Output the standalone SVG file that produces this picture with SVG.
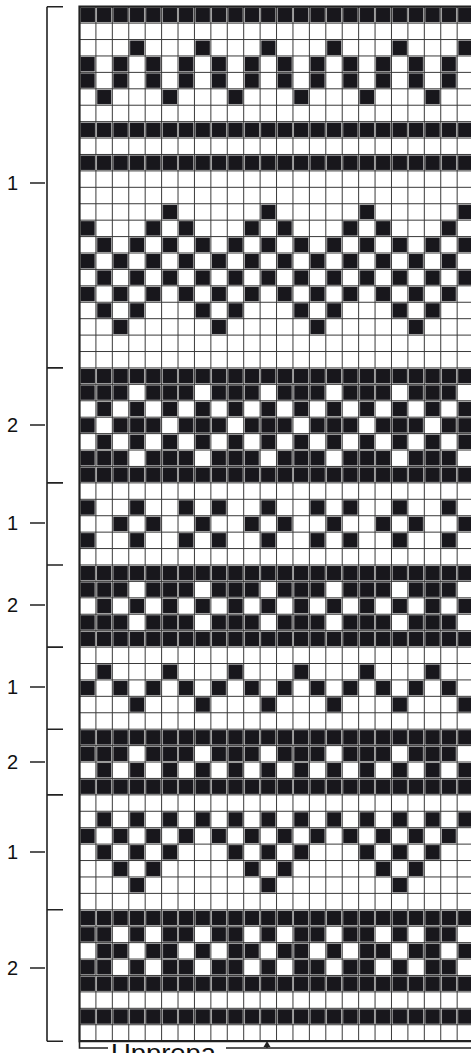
<svg xmlns="http://www.w3.org/2000/svg" width="471" height="1053" viewBox="0 0 471 1053">
<style>
.k{fill:#18171c}
.lbl{font-family:"Liberation Sans",Arial,sans-serif;font-size:20px;fill:#111}
.br{stroke:#222;stroke-width:1.6;fill:none}
</style>
<defs>
<pattern id="pF" width="1" height="1" patternUnits="userSpaceOnUse"><rect class="k" x="0.06" y="0.06" width="0.88" height="0.88"/></pattern>
<pattern id="pE" width="2" height="1" patternUnits="userSpaceOnUse"><rect class="k" x="0.06" y="0.06" width="0.88" height="0.88"/></pattern>
<pattern id="pO" width="2" height="1" patternUnits="userSpaceOnUse"><rect class="k" x="1.06" y="0.06" width="0.88" height="0.88"/></pattern>
<pattern id="a43" width="4" height="1" patternUnits="userSpaceOnUse"><rect class="k" x="3.06" y="0.06" width="0.88" height="0.88"/></pattern>
<pattern id="a41" width="4" height="1" patternUnits="userSpaceOnUse"><rect class="k" x="1.06" y="0.06" width="0.88" height="0.88"/></pattern>
<pattern id="n43" width="4" height="1" patternUnits="userSpaceOnUse"><rect class="k" x="0.06" y="0.06" width="0.88" height="0.88"/><rect class="k" x="1.06" y="0.06" width="0.88" height="0.88"/><rect class="k" x="2.06" y="0.06" width="0.88" height="0.88"/></pattern>
<pattern id="n41" width="4" height="1" patternUnits="userSpaceOnUse"><rect class="k" x="0.06" y="0.06" width="0.88" height="0.88"/><rect class="k" x="2.06" y="0.06" width="0.88" height="0.88"/><rect class="k" x="3.06" y="0.06" width="0.88" height="0.88"/></pattern>
<pattern id="b65" width="6" height="1" patternUnits="userSpaceOnUse"><rect class="k" x="5.06" y="0.06" width="0.88" height="0.88"/></pattern>
<pattern id="b604" width="6" height="1" patternUnits="userSpaceOnUse"><rect class="k" x="0.06" y="0.06" width="0.88" height="0.88"/><rect class="k" x="4.06" y="0.06" width="0.88" height="0.88"/></pattern>
<pattern id="b613" width="6" height="1" patternUnits="userSpaceOnUse"><rect class="k" x="1.06" y="0.06" width="0.88" height="0.88"/><rect class="k" x="3.06" y="0.06" width="0.88" height="0.88"/></pattern>
<pattern id="b62" width="6" height="1" patternUnits="userSpaceOnUse"><rect class="k" x="2.06" y="0.06" width="0.88" height="0.88"/></pattern>
<pattern id="c036" width="8" height="1" patternUnits="userSpaceOnUse"><rect class="k" x="0.06" y="0.06" width="0.88" height="0.88"/><rect class="k" x="3.06" y="0.06" width="0.88" height="0.88"/><rect class="k" x="6.06" y="0.06" width="0.88" height="0.88"/></pattern>
<pattern id="c247" width="8" height="1" patternUnits="userSpaceOnUse"><rect class="k" x="2.06" y="0.06" width="0.88" height="0.88"/><rect class="k" x="4.06" y="0.06" width="0.88" height="0.88"/><rect class="k" x="7.06" y="0.06" width="0.88" height="0.88"/></pattern>
<pattern id="c135" width="8" height="1" patternUnits="userSpaceOnUse"><rect class="k" x="1.06" y="0.06" width="0.88" height="0.88"/><rect class="k" x="3.06" y="0.06" width="0.88" height="0.88"/><rect class="k" x="5.06" y="0.06" width="0.88" height="0.88"/></pattern>
<pattern id="c24" width="8" height="1" patternUnits="userSpaceOnUse"><rect class="k" x="2.06" y="0.06" width="0.88" height="0.88"/><rect class="k" x="4.06" y="0.06" width="0.88" height="0.88"/></pattern>
<pattern id="c3" width="8" height="1" patternUnits="userSpaceOnUse"><rect class="k" x="3.06" y="0.06" width="0.88" height="0.88"/></pattern>
<pattern id="c01356" width="8" height="1" patternUnits="userSpaceOnUse"><rect class="k" x="0.06" y="0.06" width="0.88" height="0.88"/><rect class="k" x="1.06" y="0.06" width="0.88" height="0.88"/><rect class="k" x="3.06" y="0.06" width="0.88" height="0.88"/><rect class="k" x="5.06" y="0.06" width="0.88" height="0.88"/><rect class="k" x="6.06" y="0.06" width="0.88" height="0.88"/></pattern>
<pattern id="c12457" width="8" height="1" patternUnits="userSpaceOnUse"><rect class="k" x="1.06" y="0.06" width="0.88" height="0.88"/><rect class="k" x="2.06" y="0.06" width="0.88" height="0.88"/><rect class="k" x="4.06" y="0.06" width="0.88" height="0.88"/><rect class="k" x="5.06" y="0.06" width="0.88" height="0.88"/><rect class="k" x="7.06" y="0.06" width="0.88" height="0.88"/></pattern>
</defs>
<rect width="471" height="1053" fill="#fff"/>
<g id="chart" transform="translate(79.5 6.7) scale(16.42)">
<g id="cells">
<rect x="0" y="0" width="24" height="1" fill="url(#pF)"/>
<rect x="0" y="2" width="24" height="1" fill="url(#a43)"/>
<rect x="0" y="3" width="24" height="2" fill="url(#pE)"/>
<rect x="0" y="5" width="24" height="1" fill="url(#a41)"/>
<rect x="0" y="7" width="24" height="1" fill="url(#pF)"/>
<rect x="0" y="9" width="24" height="1" fill="url(#pF)"/>
<rect x="0" y="12" width="24" height="1" fill="url(#b65)"/>
<rect x="0" y="13" width="24" height="1" fill="url(#b604)"/>
<rect x="0" y="14" width="24" height="1" fill="url(#pO)"/>
<rect x="0" y="15" width="24" height="1" fill="url(#pE)"/>
<rect x="0" y="16" width="24" height="1" fill="url(#pO)"/>
<rect x="0" y="17" width="24" height="1" fill="url(#pE)"/>
<rect x="0" y="18" width="24" height="1" fill="url(#b613)"/>
<rect x="0" y="19" width="24" height="1" fill="url(#b62)"/>
<rect x="0" y="22" width="24" height="1" fill="url(#pF)"/>
<rect x="0" y="23" width="24" height="1" fill="url(#n43)"/>
<rect x="0" y="24" width="24" height="1" fill="url(#pO)"/>
<rect x="0" y="25" width="24" height="1" fill="url(#n41)"/>
<rect x="0" y="26" width="24" height="1" fill="url(#pO)"/>
<rect x="0" y="27" width="24" height="1" fill="url(#n43)"/>
<rect x="0" y="28" width="24" height="1" fill="url(#pF)"/>
<rect x="0" y="30" width="24" height="1" fill="url(#c036)"/>
<rect x="0" y="31" width="24" height="1" fill="url(#c247)"/>
<rect x="0" y="32" width="24" height="1" fill="url(#c036)"/>
<rect x="0" y="34" width="24" height="1" fill="url(#pF)"/>
<rect x="0" y="35" width="24" height="1" fill="url(#n43)"/>
<rect x="0" y="36" width="24" height="1" fill="url(#pO)"/>
<rect x="0" y="37" width="24" height="1" fill="url(#n43)"/>
<rect x="0" y="38" width="24" height="1" fill="url(#pF)"/>
<rect x="0" y="40" width="24" height="1" fill="url(#a41)"/>
<rect x="0" y="41" width="24" height="1" fill="url(#pE)"/>
<rect x="0" y="42" width="24" height="1" fill="url(#a43)"/>
<rect x="0" y="44" width="24" height="1" fill="url(#pF)"/>
<rect x="0" y="45" width="24" height="1" fill="url(#n43)"/>
<rect x="0" y="46" width="24" height="1" fill="url(#pO)"/>
<rect x="0" y="47" width="24" height="1" fill="url(#pF)"/>
<rect x="0" y="49" width="24" height="1" fill="url(#pO)"/>
<rect x="0" y="50" width="24" height="1" fill="url(#pE)"/>
<rect x="0" y="51" width="24" height="1" fill="url(#c135)"/>
<rect x="0" y="52" width="24" height="1" fill="url(#c24)"/>
<rect x="0" y="53" width="24" height="1" fill="url(#c3)"/>
<rect x="0" y="55" width="24" height="1" fill="url(#pF)"/>
<rect x="0" y="56" width="24" height="1" fill="url(#c01356)"/>
<rect x="0" y="57" width="24" height="1" fill="url(#c12457)"/>
<rect x="0" y="58" width="24" height="1" fill="url(#c01356)"/>
<rect x="0" y="59" width="24" height="1" fill="url(#pF)"/>
<rect x="0" y="61" width="24" height="1" fill="url(#pF)"/>
</g>
<path id="grid" fill="none" stroke="#3a3a3a" stroke-width="1" vector-effect="non-scaling-stroke" d="M1 0V63M2 0V63M3 0V63M4 0V63M5 0V63M6 0V63M7 0V63M8 0V63M9 0V63M10 0V63M11 0V63M12 0V63M13 0V63M14 0V63M15 0V63M16 0V63M17 0V63M18 0V63M19 0V63M20 0V63M21 0V63M22 0V63M23 0V63M0 1H25M0 2H25M0 3H25M0 4H25M0 5H25M0 6H25M0 7H25M0 8H25M0 9H25M0 10H25M0 11H25M0 12H25M0 13H25M0 14H25M0 15H25M0 16H25M0 17H25M0 18H25M0 19H25M0 20H25M0 21H25M0 22H25M0 23H25M0 24H25M0 25H25M0 26H25M0 27H25M0 28H25M0 29H25M0 30H25M0 31H25M0 32H25M0 33H25M0 34H25M0 35H25M0 36H25M0 37H25M0 38H25M0 39H25M0 40H25M0 41H25M0 42H25M0 43H25M0 44H25M0 45H25M0 46H25M0 47H25M0 48H25M0 49H25M0 50H25M0 51H25M0 52H25M0 53H25M0 54H25M0 55H25M0 56H25M0 57H25M0 58H25M0 59H25M0 60H25M0 61H25M0 62H25"/>
<path id="border" fill="none" stroke="#222" stroke-width="2.2" vector-effect="non-scaling-stroke" d="M25 0H0V63H25"/>
</g>
<g id="bracket">
<path class="br" d="M47 6.7V1041.2M47 6.7H63M47 367.9H63M47 482.9H63M47 565H63M47 647.1H63M47 729.2H63M47 794.9H63M47 909.8H63M47 1041.2H63"/>
<path class="br" d="M30 183H45M30 425H45M30 523H45M30 605H45M30 687H45M30 762H45M30 852H45M30 968H45"/>
</g>
<g id="labels">
<text class="lbl" x="7" y="190">1</text>
<text class="lbl" x="7" y="432">2</text>
<text class="lbl" x="7" y="530">1</text>
<text class="lbl" x="7" y="612">2</text>
<text class="lbl" x="7" y="694">1</text>
<text class="lbl" x="7" y="769">2</text>
<text class="lbl" x="7" y="859">1</text>
<text class="lbl" x="7" y="975">2</text>
</g>
<g id="repeat">
<path class="br" d="M79.5 1042V1048H108M226 1048H471"/>
<path class="br" d="M267 1048V1043"/>
<path d="M263.5 1047L267 1041L270.5 1047Z" fill="#222"/>
<text class="lbl" x="111" y="1062" style="font-size:26px" textLength="105" lengthAdjust="spacingAndGlyphs">Upprepa</text>
</g>
</svg>
